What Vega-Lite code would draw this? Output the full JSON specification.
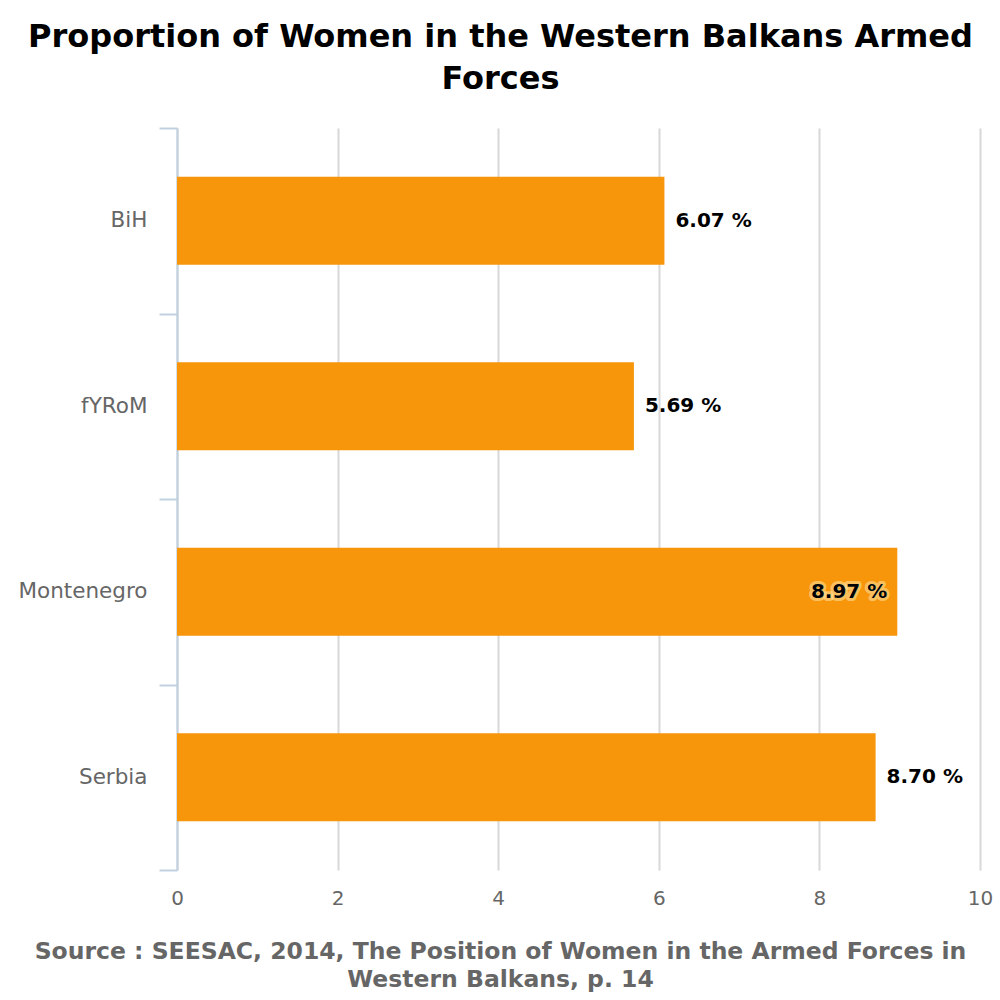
{
  "$schema": "https://vega.github.io/schema/vega-lite/v6.json",
  "autosize": "none",
  "width": 803,
  "height": 742,
  "padding": {"top": 128, "left": 177, "right": 20, "bottom": 130},
  "background": "white",
  "config": {"view": {"stroke": null}, "font": "DejaVu Sans"},
  "title": {
    "text": ["Proportion of Women in the Western Balkans Armed", "Forces"],
    "font": "DejaVu Sans",
    "fontSize": 32,
    "fontWeight": "bold",
    "color": "#000000",
    "anchor": "middle",
    "frame": "group",
    "dx": -78,
    "lineHeight": 42,
    "offset": 21
  },
  "data": {
    "values": [
      {"country": "BiH", "value": 6.07},
      {"country": "fYRoM", "value": 5.69},
      {"country": "Montenegro", "value": 8.97},
      {"country": "Serbia", "value": 8.70}
    ]
  },
  "encoding": {
    "y": {
      "field": "country",
      "type": "nominal",
      "sort": null,
      "scale": {"paddingInner": 0, "paddingOuter": 0},
      "axis": {
        "title": null,
        "domainColor": "#C0D0E0",
        "domainWidth": 2,
        "tickColor": "#C0D0E0",
        "tickWidth": 2,
        "tickSize": 18,
        "tickBand": "extent",
        "labelColor": "#666666",
        "labelFontSize": 21.5,
        "labelFont": "DejaVu Sans",
        "labelPadding": 12,
        "grid": false
      }
    },
    "x": {
      "field": "value",
      "type": "quantitative",
      "scale": {"domain": [0, 10], "nice": false},
      "axis": {
        "values": [0, 2, 4, 6, 8, 10],
        "domain": false,
        "ticks": false,
        "grid": true,
        "gridColor": "#D8D8D8",
        "gridWidth": 2,
        "labelColor": "#666666",
        "labelFontSize": 20,
        "labelFont": "DejaVu Sans",
        "labelPadding": 18,
        "labelFlush": false,
        "title": ["Source : SEESAC, 2014, The Position of Women in the Armed Forces in", "Western Balkans, p. 14"],
        "titleFont": "DejaVu Sans",
        "titleFontSize": 23.5,
        "titleFontWeight": "bold",
        "titleColor": "#666666",
        "titleLineHeight": 28,
        "titleX": 323,
        "titleY": 69,
        "titleAlign": "center",
        "titleBaseline": "top"
      }
    }
  },
  "layer": [
    {"mark": {"type": "bar", "color": "#F7950B", "x": 1, "height": {"band": 0.4744}}, "encoding": {}},
    {
      "transform": [{"filter": "datum.value < 8.8"}],
      "mark": {
        "type": "text",
        "align": "left",
        "baseline": "middle",
        "dx": 11,
        "fontSize": 20,
        "fontWeight": "bold",
        "font": "DejaVu Sans",
        "color": "#000000",
        "text": {"expr": "format(datum.value, '.2f') + ' %'"}
      },
      "encoding": {}
    },
    {
      "transform": [{"filter": "datum.value >= 8.8"}],
      "mark": {
        "type": "text",
        "align": "right",
        "baseline": "middle",
        "dx": -10,
        "fontSize": 20,
        "fontWeight": "bold",
        "font": "DejaVu Sans",
        "color": "#FFF0C8",
        "stroke": "#FFE7A8",
        "strokeWidth": 6,
        "strokeOpacity": 0.55,
        "strokeJoin": "round",
        "text": {"expr": "format(datum.value, '.2f') + ' %'"}
      },
      "encoding": {}
    },
    {
      "transform": [{"filter": "datum.value >= 8.8"}],
      "mark": {
        "type": "text",
        "align": "right",
        "baseline": "middle",
        "dx": -10,
        "fontSize": 20,
        "fontWeight": "bold",
        "font": "DejaVu Sans",
        "color": "#000000",
        "text": {"expr": "format(datum.value, '.2f') + ' %'"}
      },
      "encoding": {}
    }
  ]
}
